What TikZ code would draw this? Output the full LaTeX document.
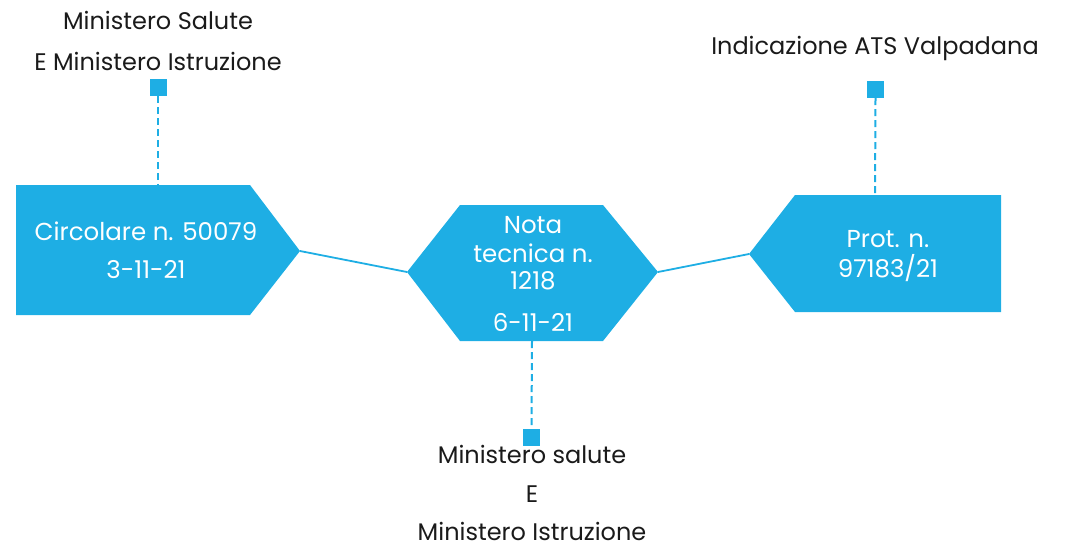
\documentclass[tikz,border=0pt]{standalone}
\usepackage{fontspec}
\setmainfont{Poppins}
\definecolor{cblue}{HTML}{1EAEE4}
\definecolor{ctext}{HTML}{1A1A1A}
\begin{document}
\begin{tikzpicture}[x=1pt,y=-1pt,
  boxtxt/.style={text=white,font=\fontsize{24.5}{28}\selectfont,align=center,inner sep=0pt},
  outtxt/.style={text=ctext,font=\fontsize{24}{28}\selectfont,align=center,inner sep=0pt},
  sq/.style={fill=cblue,minimum size=17pt,inner sep=0pt},
  conn/.style={cblue,line width=1.8pt},
  dconn/.style={cblue,line width=2pt,dash pattern=on 7pt off 4pt}]
\useasboundingbox (0,0) rectangle (1070,547);
% shapes
\fill[cblue] (16,185) -- (250,185) -- (300,251) coordinate (Ltip) -- (250,315) -- (16,315) -- cycle;
\coordinate (Ltop) at (158,185);
\fill[cblue] (460,205) -- (603,205) -- (658,272) coordinate (Mright) -- (603,341) -- (460,341) -- (407,272) coordinate (Mleft) -- cycle;
\coordinate (Mbot) at (532,341);
\fill[cblue] (795,195) -- (1001,195) -- (1001,312) -- (795,312) -- (749,254) coordinate (Rtip) -- cycle;
\coordinate (Rtop) at (875,195);
% box texts
\node[boxtxt] (t1) at (146,231) {Circolare n. 50079};
\node[boxtxt] (t2) at (146,270) {3-11-21};
\node[boxtxt] (m1) at (533,225) {Nota};
\node[boxtxt] (m2) at (533,253) {tecnica n.};
\node[boxtxt] (m3) at (533,281) {1218};
\node[boxtxt] (m4) at (533,322) {6-11-21};
\node[boxtxt] (r1) at (888,239) {Prot. n.};
\node[boxtxt] (r2) at (888,268) {97183/21};
% connectors
\draw[conn] (Ltip) -- (Mleft);
\draw[conn] (Mright) -- (Rtip);
% squares
\node[sq] (sL) at (158,87.5) {};
\node[sq] (sR) at (875.5,89.5) {};
\node[sq] (sM) at (531.5,437) {};
\draw[dconn] (sL.south) -- (Ltop);
\draw[dconn] (sR.south) -- (Rtop);
\draw[dconn] (Mbot) -- (sM.north);
% outer labels
\node[outtxt] (o1) at (158,20) {Ministero Salute};
\node[outtxt] (o2) at (158,61) {E Ministero Istruzione};
\node[outtxt] (o3) at (875,48) {Indicazione ATS Valpadana};
\node[outtxt] (o4) at (532,454) {Ministero salute};
\node[outtxt] (o5) at (532,494) {E};
\node[outtxt] (o6) at (532,531) {Ministero Istruzione};
\end{tikzpicture}
\end{document}
